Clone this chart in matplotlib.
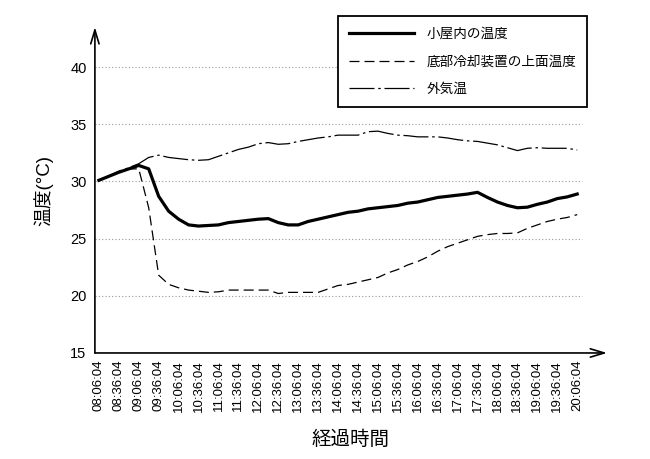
import matplotlib.pyplot as plt
import numpy as np

plt.rcParams['font.family'] = ['Liberation Sans', 'Noto Sans CJK JP', 'DejaVu Sans']

# tick labels every 30 min, data every 15 min
tick_labels = ['08:06:04', '08:36:04', '09:06:04', '09:36:04', '10:06:04', '10:36:04',
               '11:06:04', '11:36:04', '12:06:04', '12:36:04', '13:06:04', '13:36:04',
               '14:06:04', '14:36:04', '15:06:04', '15:36:04', '16:06:04', '16:36:04',
               '17:06:04', '17:36:04', '18:06:04', '18:36:04', '19:06:04', '19:36:04',
               '20:06:04']

# 小屋内の温度
cabin = [30.1, 30.45, 30.8, 31.1, 31.4, 31.1, 28.7, 27.4, 26.7, 26.2, 26.1, 26.15,
         26.2, 26.4, 26.5, 26.6, 26.7, 26.75, 26.4, 26.2, 26.2, 26.5, 26.7, 26.9,
         27.1, 27.3, 27.4, 27.6, 27.7, 27.8, 27.9, 28.1, 28.2, 28.4, 28.6, 28.7,
         28.8, 28.9, 29.05, 28.6, 28.2, 27.9, 27.7, 27.75, 28.0, 28.2, 28.5, 28.65,
         28.9]

# 底部冷却装置の上面温度
cooler = [30.1, 30.45, 30.8, 31.1, 31.1, 27.7, 21.8, 21.0, 20.7, 20.5, 20.4, 20.3,
          20.35, 20.5, 20.5, 20.5, 20.5, 20.5, 20.2, 20.3, 20.3, 20.3, 20.3, 20.6,
          20.9, 21.0, 21.2, 21.4, 21.6, 22.0, 22.3, 22.7, 23.0, 23.4, 23.9, 24.3,
          24.6, 24.9, 25.2, 25.35, 25.45, 25.45, 25.5, 25.9, 26.2, 26.5, 26.7, 26.85,
          27.1]

# 外気温
outside = [30.1, 30.5, 30.9, 31.2, 31.55, 32.1, 32.3, 32.1, 32.0, 31.9, 31.85, 31.9,
           32.2, 32.5, 32.8, 33.0, 33.3, 33.4, 33.25, 33.3, 33.5, 33.65, 33.8, 33.9,
           34.05, 34.05, 34.05, 34.35, 34.4, 34.2, 34.05, 34.0, 33.9, 33.9, 33.9, 33.8,
           33.65, 33.55, 33.5, 33.35, 33.2, 32.95, 32.7, 32.9, 32.95, 32.9, 32.9, 32.9,
           32.75]

x = np.arange(len(cabin))

fig = plt.figure(figsize=(6.5, 4.59), dpi=100)
ax = fig.add_axes([0.146, 0.231, 0.788, 0.710])

for y in [20, 25, 30, 35, 40]:
    ax.hlines(y, -0.4, 48.5, colors='#999999', linestyles=(0, (1, 2)), linewidth=0.8)

l1, = ax.plot(x, cabin, color='black', linewidth=2.3)
l2, = ax.plot(x, cooler, color='black', linewidth=0.9, dashes=(8, 4))
l3, = ax.plot(x, outside, color='black', linewidth=0.9, dashes=(20, 3, 2, 3))

ax.set_xlim(-0.4, 51.0)
ax.set_ylim(15, 43.5)
ax.set_yticks([15, 20, 25, 30, 35, 40])
ax.set_xticks(x[::2])
ax.set_xticklabels(tick_labels, rotation=90, fontsize=9.5)
ax.tick_params(axis='y', labelsize=10.5, length=0, pad=6)
ax.tick_params(axis='x', length=0, pad=5)
for s in ax.spines.values():
    s.set_visible(False)

ax.annotate('', xy=(1, 0), xytext=(0, 0), xycoords='axes fraction',
            arrowprops=dict(arrowstyle='->,head_length=1.0,head_width=0.3', color='black', lw=1.2,
                            shrinkA=0, shrinkB=0))
ax.annotate('', xy=(0, 1), xytext=(0, 0), xycoords='axes fraction',
            arrowprops=dict(arrowstyle='->,head_length=1.0,head_width=0.3', color='black', lw=1.2,
                            shrinkA=0, shrinkB=0))

ax.set_ylabel('温度(°C)', fontsize=13.5, labelpad=12)
ax.set_xlabel('経過時間', fontsize=14, labelpad=14)

leg = fig.legend([l1, l2, l3], ['小屋内の温度', '底部冷却装置の上面温度', '外気温'],
                 loc='upper left', bbox_to_anchor=(338 / 650, 1 - 16 / 459),
                 fontsize=9.8, handlelength=4.8, handletextpad=0.9, labelspacing=1.0,
                 borderpad=0.8, borderaxespad=0,
                 fancybox=False, edgecolor='black', framealpha=1)
leg.get_frame().set_linewidth(1.3)

fig.savefig('out.png', dpi=100)
